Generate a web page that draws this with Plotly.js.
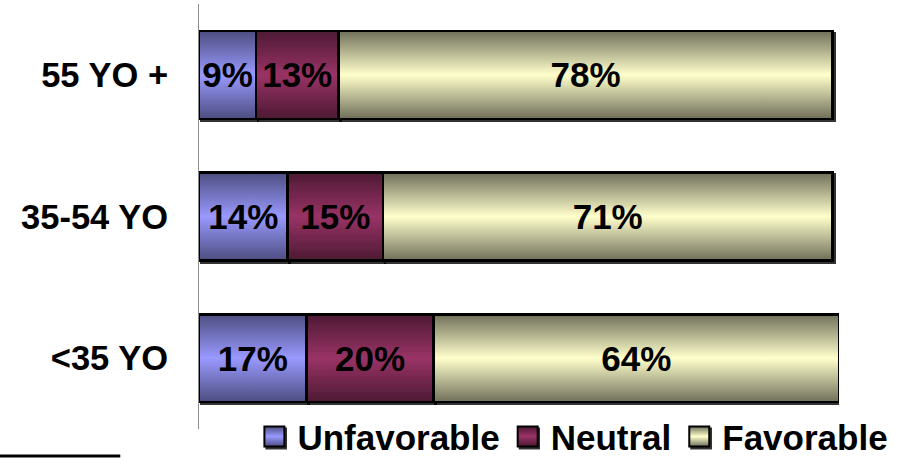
<!DOCTYPE html>
<html>
<head>
<meta charset="utf-8">
<script src="https://cdn.plot.ly/plotly-3.0.1.min.js"></script>
<style>
  html, body { margin: 0; padding: 0; background: #ffffff; }
  #chart { width: 920px; height: 460px; }
</style>
</head>
<body>
<div id="chart"></div>
<script>
// ---- data ----
const categories = ['<35 YO', '35-54 YO', '55 YO +'];
const unfavorable = [17, 14, 9];
const neutral = [20, 15, 13];
const favorable = [64, 71, 78];
const seriesNames = ['Unfavorable', 'Neutral', 'Favorable'];

const baseColors = ['#9999ff', '#993366', '#ffffcc'];
const gradStops = [
  ['#4d4d80', '#9999ff', '#4d4d80'],
  ['#4d1a33', '#993366', '#4d1a33'],
  ['#6f6f5a', '#ffffcc', '#6f6f5a']
];

const FONT = 'Arial, "Liberation Sans", sans-serif';

function pctText(arr) { return arr.map(v => v + '%'); }

const seriesValues = [unfavorable, neutral, favorable];
const traces = seriesValues.map((vals, i) => ({
  type: 'bar',
  orientation: 'h',
  name: seriesNames[i],
  y: categories,
  x: vals,
  width: 0.62,
  text: pctText(vals),
  textposition: 'inside',
  insidetextanchor: 'middle',
  constraintext: 'none',
  textfont: { family: FONT, size: 35, color: '#000000', weight: 'bold' },
  marker: { color: baseColors[i], line: { color: '#000000', width: 2.5 } },
  hoverinfo: 'skip'
}));

const layout = {
  width: 920,
  height: 460,
  barmode: 'stack',
  paper_bgcolor: '#ffffff',
  plot_bgcolor: '#ffffff',
  margin: { l: 199, r: 81, t: 4, b: 31, autoexpand: false },
  showlegend: true,
  legend: {
    orientation: 'h',
    x: 1.085, xanchor: 'right',
    y: -0.018, yanchor: 'middle',
    itemwidth: 36,
    font: { family: FONT, size: 35, color: '#000000', weight: 'bold' },
    traceorder: 'normal',
    itemclick: false,
    bgcolor: 'rgba(0,0,0,0)'
  },
  xaxis: { range: [0, 101], visible: false, fixedrange: true },
  yaxis: {
    type: 'category',
    categoryorder: 'array',
    categoryarray: categories,
    range: [-0.5, 2.5],
    showline: true,
    linecolor: '#8c8c8c',
    linewidth: 1,
    ticks: '',
    showgrid: false,
    zeroline: false,
    ticklabelstandoff: 23,
    tickfont: { family: FONT, size: 34.5, color: '#000000', weight: 'bold' },
    fixedrange: true
  },
  shapes: [
    { type: 'line', xref: 'paper', yref: 'paper', x0: -0.311, x1: -0.123, y0: -0.0635, y1: -0.0635,
      line: { color: '#000000', width: 3 } }
  ]
};

Plotly.newPlot('chart', traces, layout, { staticPlot: true, displayModeBar: false }).then(gd => {
  const NS = 'http://www.w3.org/2000/svg';
  const svg = gd.querySelector('.main-svg');
  let defs = svg.querySelector('defs');
  if (!defs) { defs = document.createElementNS(NS, 'defs'); svg.insertBefore(defs, svg.firstChild); }
  gradStops.forEach((stops, i) => {
    const lg = document.createElementNS(NS, 'linearGradient');
    lg.setAttribute('id', 'barGrad' + i);
    lg.setAttribute('x1', '0'); lg.setAttribute('y1', '0');
    lg.setAttribute('x2', '0'); lg.setAttribute('y2', '1');
    [[0, stops[0]], [0.5, stops[1]], [1, stops[2]]].forEach(([o, c]) => {
      const s = document.createElementNS(NS, 'stop');
      s.setAttribute('offset', o);
      s.setAttribute('stop-color', c);
      lg.appendChild(s);
    });
    defs.appendChild(lg);
  });
  const flt = document.createElementNS(NS, 'filter');
  flt.setAttribute('id', 'barShadow');
  flt.setAttribute('x', '-5%'); flt.setAttribute('y', '-5%');
  flt.setAttribute('width', '115%'); flt.setAttribute('height', '120%');
  const ds = document.createElementNS(NS, 'feDropShadow');
  ds.setAttribute('dx', '2'); ds.setAttribute('dy', '2');
  ds.setAttribute('stdDeviation', '0');
  ds.setAttribute('flood-color', '#000000');
  ds.setAttribute('flood-opacity', '0.8');
  flt.appendChild(ds);
  defs.appendChild(flt);

  const barTraces = gd.querySelectorAll('.barlayer .trace');
  barTraces.forEach((t, i) => {
    t.querySelectorAll('.point path').forEach(p => {
      p.style.fill = 'url(#barGrad' + i + ')';
      p.setAttribute('filter', 'url(#barShadow)');
    });
  });
  const legend = gd.querySelector('.legend');
  if (legend) {
    legend.querySelectorAll('[clip-path]').forEach(el => el.removeAttribute('clip-path'));
    legend.removeAttribute('clip-path');
  }
  const legItems = gd.querySelectorAll('.legend .traces');
  legItems.forEach((t, i) => {
    t.querySelectorAll('.legendpoints path').forEach(p => {
      p.style.fill = 'url(#barGrad' + i + ')';
      p.style.strokeWidth = '2px';
      p.setAttribute('d', 'M10,10H-10V-10H10Z');
      p.setAttribute('filter', 'url(#barShadow)');
    });
  });
});
</script>
</body>
</html>
